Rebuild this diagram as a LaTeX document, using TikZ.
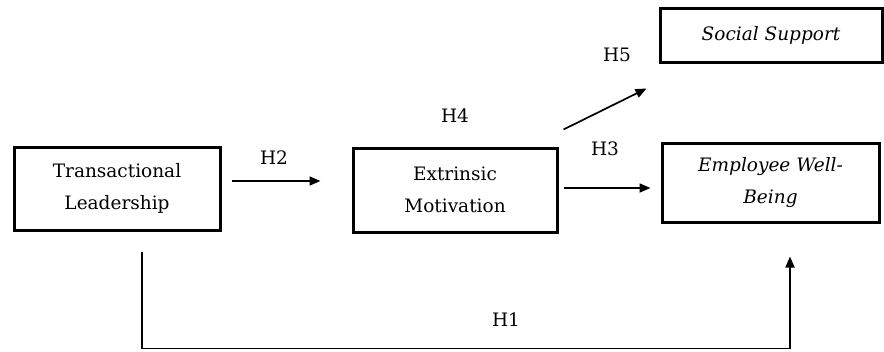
\documentclass[tikz,border=0pt]{standalone}
\usepackage{fontspec}
\setmainfont{DejaVu Serif}
\usetikzlibrary{arrows.meta, calc, positioning}
\tikzset{
  construct/.style={rectangle, draw=black, line width=3pt, align=center,
                    font=\fontsize{18.5}{32}\selectfont, inner sep=0pt},
  hyp/.style={font=\fontsize{18.5}{24}\selectfont, inner sep=1pt},
  link/.style={-{Triangle[length=11pt,width=9pt]}, line width=1.7pt, draw=black},
}

\begin{document}
\begin{tikzpicture}[x=1pt, y=-1pt]
\useasboundingbox (0,0) rectangle (884,351);

% Constructs
\node[construct, minimum width=206pt, minimum height=83pt] (lead) at (117,188.5)
  {Transactional\\Leadership};
\node[construct, minimum width=204pt, minimum height=84pt] (motiv) at (455,190)
  {Extrinsic\\Motivation};
\node[construct, minimum width=217pt, minimum height=79pt] (wellb) at (770.5,182.5)
  {\itshape Employee Well-\\\itshape Being};
\node[construct, minimum width=222pt, minimum height=54pt] (support) at (771,35)
  {\itshape Social Support};

% Hypothesis labels
\node[hyp] (h1) at (506,320) {H1};
\node[hyp] (h2) at (274,158) {H2};
\node[hyp] (h3) at (605,149) {H3};
\node[hyp] (h4) at (455,116) {H4};
\node[hyp] (h5) at (617,55) {H5};

% Paths
\draw[link, shorten <=10pt, shorten >=31pt]
  ([yshift=7.5pt]lead.east) -- ([yshift=7.5pt]lead.east -| motiv.west);
\draw[link, shorten <=5pt, shorten >=10pt]
  ([yshift=2pt]motiv.east) -- ([yshift=2pt]motiv.east -| wellb.west);
\draw[link] ([shift={(5,-17)}]motiv.north east) -- ([shift={(-12,25)}]support.south west);
\draw[link] ([shift={(25,20)}]lead.south) -- ++(0,97) -| ([shift={(19.5,33)}]wellb.south);

\end{tikzpicture}
\end{document}
